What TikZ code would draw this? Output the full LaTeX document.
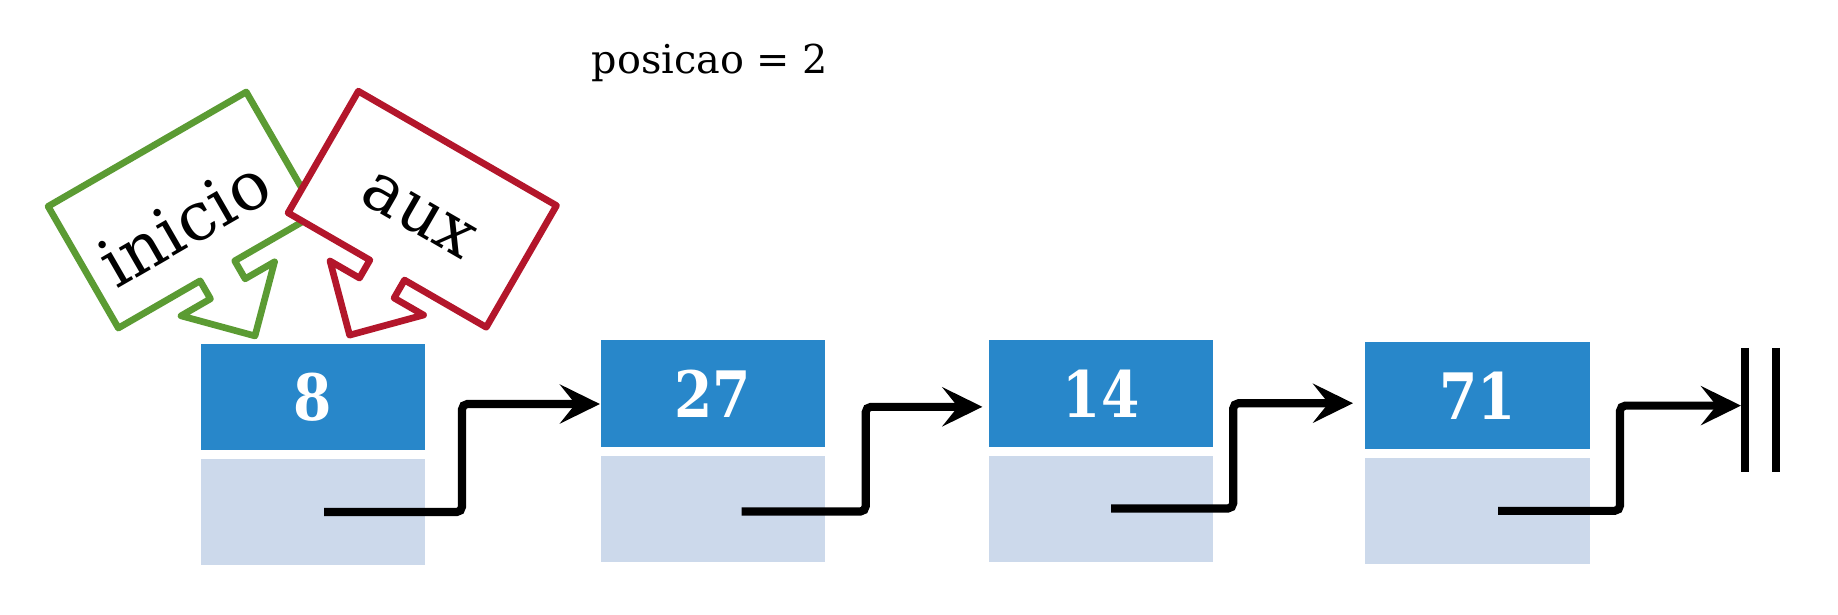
\documentclass[tikz,border=0pt]{standalone}
\usepackage{fontspec}
\usetikzlibrary{positioning,arrows.meta}
\newfontfamily\slabfont{DejaVu Serif}
\newfontfamily\numfont{DejaVu Serif}[FakeStretch=0.86]
\definecolor{cellblue}{HTML}{2887CA}
\definecolor{celllight}{HTML}{CCD9EB}
\definecolor{inigreen}{HTML}{5B9B33}
\definecolor{auxred}{HTML}{B3162B}

\begin{document}
\begin{tikzpicture}[x=0.01cm, y=-0.01cm,
  val/.style={fill=cellblue, text=white, minimum width=2.24cm, minimum height=1.065cm,
              inner sep=0pt, font=\numfont\bfseries\fontsize{18.2}{20}\selectfont},
  nxt/.style={fill=celllight, minimum width=2.24cm, minimum height=1.06cm, inner sep=0pt},
  link/.style={-{Stealth[length=0.4cm, width=0.39cm, inset=0.155cm]}, line width=2.3pt,
               rounded corners=1.5pt},
  ptr/.style={draw, fill=white, line width=1.9pt, line join=round},
  ptrtext/.style={font=\slabfont\fontsize{19}{22}\selectfont, inner sep=0pt, transform shape},
  nilbar/.style={line width=0.08cm}]
\useasboundingbox (0,0) rectangle (1838,614);

\node[font=\slabfont\fontsize{11.3}{14}\selectfont, anchor=base] (pos) at (710,73) {posicao = 2};

% celulas da lista
\node[val] (t1) at (313,396.8) {8};
\node[nxt, below=0.075cm of t1] (b1) {};
\node[val] (t2) at (712.7,393.3) {27};
\node[nxt, below=0.075cm of t2] (b2) {};
\node[val] (t3) at (1101.2,393.3) {14};
\node[nxt, below=0.075cm of t3] (b3) {};
\node[val] (t4) at (1477.5,395.6) {71};
\node[nxt, below=0.075cm of t4] (b4) {};

% ponteiros
\begin{scope}[shift={(182.3,210)}, rotate=30]
  \draw[ptr, draw=inigreen] (-114.4,-70.25) -- (114.4,-70.25) -- (114.4,70.25) -- (20,70.25)
    -- (20,91) -- (54,91) -- (0,145.4) -- (-54,91) -- (-20,91) -- (-20,70.25)
    -- (-114.4,70.25) -- cycle;
  \node[ptrtext] (inicio) at (-5,12) {inicio};
\end{scope}
\begin{scope}[shift={(422.3,209.2)}, rotate=-30]
  \draw[ptr, draw=auxred] (-114.4,-70.25) -- (114.4,-70.25) -- (114.4,70.25) -- (20,70.25)
    -- (20,91) -- (54,91) -- (0,145.4) -- (-54,91) -- (-20,91) -- (-20,70.25)
    -- (-114.4,70.25) -- cycle;
  \node[ptrtext] (aux) at (0,7) {aux};
\end{scope}

% proximo
\coordinate (nil) at (1741,405.6);
\draw[link] ([xshift=0.11cm]b1.center) -- ++(138,0) |- ([yshift=-0.107cm]t2.west);
\draw[link] ([xshift=0.29cm, yshift=-0.03cm]b2.center) -- ++(124,0) |- ([xshift=-0.06cm, yshift=-0.135cm]t3.west);
\draw[link] ([xshift=0.10cm]b3.center) -- ++(122,0) |- ([xshift=-0.117cm, yshift=-0.076cm]t4.west);
\draw[link] ([xshift=0.205cm]b4.center) -- ++(122,0) |- (nil);
\draw[nilbar] ([xshift=0.04cm, yshift=0.576cm]nil) -- ++(0,124);
\draw[nilbar] ([xshift=0.345cm, yshift=0.576cm]nil) -- ++(0,124);
\end{tikzpicture}
\end{document}
